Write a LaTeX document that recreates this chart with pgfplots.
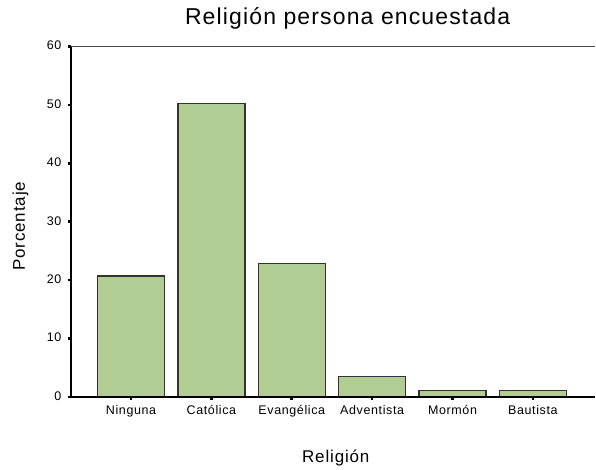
\documentclass[border=0pt]{standalone}
\usepackage{fontspec}
\setmainfont{Liberation Sans}
\newfontfamily\wide[LetterSpace=5]{Liberation Sans}
\usepackage{pgfplots}
\pgfplotsset{compat=1.18}
\definecolor{barfill}{RGB}{177,205,148}
\definecolor{baredge}{RGB}{51,51,51}
\begin{document}
\begin{tikzpicture}[x=1pt,y=1pt]
\begin{axis}[
    at={(0,0)}, anchor=south west,
    scale only axis,
    width=525pt, height=350.6pt,
    xmin=-0.748, xmax=5.777,
    ymin=0, ymax=60,
    axis line style={draw=none},
    clip=false,
    ytick={0,10,...,60},
    xtick={0,1,2,3,4,5},
    xticklabels={Ninguna, Católica, Evangélica, Adventista, Mormón, Bautista},
    xtick pos=bottom, ytick pos=left,
    tick align=outside,
    major tick length=3pt,
    tick style={line width=2.6pt, black},
    every tick label/.append style={font=\wide\fontsize{12.5}{15}\selectfont},
    yticklabel style={anchor=east, yshift=1pt, xshift=-3pt},
    xticklabel style={anchor=base, yshift=-15pt},
    /pgf/number format/assume math mode=true,
    xlabel={Religión},
    ylabel={Porcentaje},
    label style={font=\wide\fontsize{17}{19}\selectfont},
    xlabel style={at={(axis description cs:0.505,-0.1865)}, anchor=base},
    ylabel style={at={(axis description cs:-0.0876,0.487)}, anchor=base},
    ybar, bar width=0.833, bar shift=0pt,
]
\addplot[fill=barfill, draw=baredge, line width=1.3pt] coordinates {
    (0,20.7) (1,50.3) (2,22.8) (3,3.5) (4,1.1) (5,1.1)
};
\draw[black, line width=1.3pt] (rel axis cs:0,0) -- (rel axis cs:1,0);
\draw[black, line width=1.3pt] (rel axis cs:0,0) -- (rel axis cs:0,1);
\draw[black!70, line width=1.3pt] (rel axis cs:0,1) -- (rel axis cs:1,1);
\end{axis}
\node[font=\wide\fontsize{23}{26}\selectfont, anchor=base] at (277,373) {Religión persona encuestada};
\useasboundingbox (-71,-69.7) rectangle (525,397.3);
\end{tikzpicture}
\end{document}
